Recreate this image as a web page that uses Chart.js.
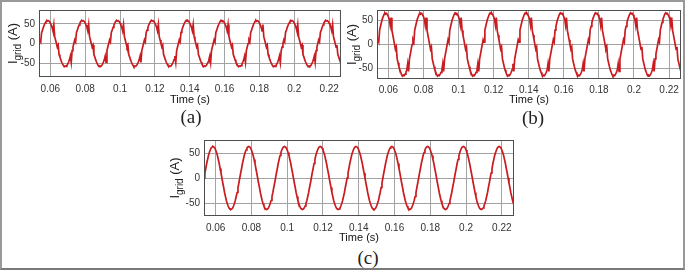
<!DOCTYPE html>
<html>
<head>
<meta charset="utf-8">
<script src="https://cdn.jsdelivr.net/npm/chart.js@4.4.1/dist/chart.umd.min.js"></script>
<style>
  html, body { margin: 0; padding: 0; background: #fff; }
  #page { position: relative; width: 685px; height: 270px; overflow: hidden; }
  .box { position: absolute; }
  .cap { position: absolute; font-family: "Liberation Serif", serif; font-size: 19px; line-height: 19px; color: #222; transform: translateX(-50%); white-space: nowrap; }
  #frame { position: absolute; left: 0; top: 0; width: 685px; height: 270px; box-sizing: border-box; border: 2px solid #999; border-bottom-color: #7a7a7a; pointer-events: none; }
</style>
</head>
<body>
<div id="page">
  <div class="box" style="left:0;top:0;width:345px;height:107px"><canvas id="ca"></canvas></div>
  <div class="box" style="left:340px;top:0;width:345px;height:107px"><canvas id="cb"></canvas></div>
  <div class="box" style="left:160px;top:130px;width:358px;height:115px"><canvas id="cc"></canvas></div>
  <div class="cap" style="left:191px;top:107px">(a)</div>
  <div class="cap" style="left:533px;top:108px">(b)</div>
  <div class="cap" style="left:368px;top:248px">(c)</div>
  <div id="frame"></div>
</div>
<script>
// sample times (s)
const time = [
  0.0535,0.054,0.0545,0.055,0.0555,0.056,0.0565,0.057,0.0575,0.058,0.0585,0.059,0.0595,0.06,0.0605,0.061,0.0615,0.062,0.0625,0.063,
  0.0635,0.064,0.0645,0.065,0.0655,0.066,0.0665,0.067,0.0675,0.068,0.0685,0.069,0.0695,0.07,0.0705,0.071,0.0715,0.072,0.0725,0.073,
  0.0735,0.074,0.0745,0.075,0.0755,0.076,0.0765,0.077,0.0775,0.078,0.0785,0.079,0.0795,0.08,0.0805,0.081,0.0815,0.082,0.0825,0.083,
  0.0835,0.084,0.0845,0.085,0.0855,0.086,0.0865,0.087,0.0875,0.088,0.0885,0.089,0.0895,0.09,0.0905,0.091,0.0915,0.092,0.0925,0.093,
  0.0935,0.094,0.0945,0.095,0.0955,0.096,0.0965,0.097,0.0975,0.098,0.0985,0.099,0.0995,0.1,0.1005,0.101,0.1015,0.102,0.1025,0.103,
  0.1035,0.104,0.1045,0.105,0.1055,0.106,0.1065,0.107,0.1075,0.108,0.1085,0.109,0.1095,0.11,0.1105,0.111,0.1115,0.112,0.1125,0.113,
  0.1135,0.114,0.1145,0.115,0.1155,0.116,0.1165,0.117,0.1175,0.118,0.1185,0.119,0.1195,0.12,0.1205,0.121,0.1215,0.122,0.1225,0.123,
  0.1235,0.124,0.1245,0.125,0.1255,0.126,0.1265,0.127,0.1275,0.128,0.1285,0.129,0.1295,0.13,0.1305,0.131,0.1315,0.132,0.1325,0.133,
  0.1335,0.134,0.1345,0.135,0.1355,0.136,0.1365,0.137,0.1375,0.138,0.1385,0.139,0.1395,0.14,0.1405,0.141,0.1415,0.142,0.1425,0.143,
  0.1435,0.144,0.1445,0.145,0.1455,0.146,0.1465,0.147,0.1475,0.148,0.1485,0.149,0.1495,0.15,0.1505,0.151,0.1515,0.152,0.1525,0.153,
  0.1535,0.154,0.1545,0.155,0.1555,0.156,0.1565,0.157,0.1575,0.158,0.1585,0.159,0.1595,0.16,0.1605,0.161,0.1615,0.162,0.1625,0.163,
  0.1635,0.164,0.1645,0.165,0.1655,0.166,0.1665,0.167,0.1675,0.168,0.1685,0.169,0.1695,0.17,0.1705,0.171,0.1715,0.172,0.1725,0.173,
  0.1735,0.174,0.1745,0.175,0.1755,0.176,0.1765,0.177,0.1775,0.178,0.1785,0.179,0.1795,0.18,0.1805,0.181,0.1815,0.182,0.1825,0.183,
  0.1835,0.184,0.1845,0.185,0.1855,0.186,0.1865,0.187,0.1875,0.188,0.1885,0.189,0.1895,0.19,0.1905,0.191,0.1915,0.192,0.1925,0.193,
  0.1935,0.194,0.1945,0.195,0.1955,0.196,0.1965,0.197,0.1975,0.198,0.1985,0.199,0.1995,0.2,0.2005,0.201,0.2015,0.202,0.2025,0.203,
  0.2035,0.204,0.2045,0.205,0.2055,0.206,0.2065,0.207,0.2075,0.208,0.2085,0.209,0.2095,0.21,0.2105,0.211,0.2115,0.212,0.2125,0.213,
  0.2135,0.214,0.2145,0.215,0.2155,0.216,0.2165,0.217,0.2175,0.218,0.2185,0.219,0.2195,0.22,0.2205,0.221,0.2215,0.222,0.2225,0.223,
  0.2235,0.224,0.2245,0.225,0.2255,0.226,0.2265,0.227,0.2275
];

// grid current (A), panel (a)
const igridA = [
  10,9,4,28,34,41,47,52,56,59,57,58,56,52,47,41,32,48,18,9,
  0,-9,-4,-28,-34,-41,-47,-52,-56,-59,-57,-58,-56,-52,-47,-41,-32,-48,-18,-9,
  0,9,4,28,34,41,47,52,56,59,57,58,56,52,47,41,32,48,18,9,
  0,-9,-4,-28,-34,-41,-47,-52,-56,-59,-57,-58,-56,-52,-47,-41,-32,-48,-18,-9,
  0,9,4,28,34,41,47,52,56,59,57,58,56,52,47,41,32,48,18,9,
  0,-9,-4,-28,-34,-41,-47,-52,-56,-59,-57,-58,-56,-52,-47,-41,-32,-48,-18,-9,
  0,9,4,28,34,41,47,52,56,59,57,58,56,52,47,41,32,48,18,9,
  0,-9,-4,-28,-34,-41,-47,-52,-56,-59,-57,-58,-56,-52,-47,-41,-32,-48,-18,-9,
  0,9,4,28,34,41,47,52,56,59,57,58,56,52,47,41,32,48,18,9,
  0,-9,-4,-28,-34,-41,-47,-52,-56,-59,-57,-58,-56,-52,-47,-41,-32,-48,-18,-9,
  0,9,4,28,34,41,47,52,56,59,57,58,56,52,47,41,32,48,18,9,
  0,-9,-4,-28,-34,-41,-47,-52,-56,-59,-57,-58,-56,-52,-47,-41,-32,-48,-18,-9,
  0,9,4,28,34,41,47,52,56,59,57,58,56,52,47,41,32,48,18,9,
  0,-9,-4,-28,-34,-41,-47,-52,-56,-59,-57,-58,-56,-52,-47,-41,-32,-48,-18,-9,
  0,9,4,28,34,41,47,52,56,59,57,58,56,52,47,41,32,48,18,9,
  0,-9,-4,-28,-34,-41,-47,-52,-56,-59,-57,-58,-56,-52,-47,-41,-32,-48,-18,-9,
  0,9,4,28,34,41,47,52,56,59,57,58,56,52,47,41,32,48,18,9,
  0,-9,-4,-28,-34,-41,-47,-52,-56
];

// grid current (A), panel (b)
const igridB = [
  14,10,5,30,38,46,53,58,63,66,64,65,62,58,53,40,56,30,20,10,
  0,-10,-5,-30,-38,-46,-53,-58,-63,-66,-64,-65,-62,-58,-53,-40,-56,-30,-20,-10,
  0,10,5,30,38,46,53,58,63,66,64,65,62,58,53,40,56,30,20,10,
  0,-10,-5,-30,-38,-46,-53,-58,-63,-66,-64,-65,-62,-58,-53,-40,-56,-30,-20,-10,
  0,10,5,30,38,46,53,58,63,66,64,65,62,58,53,40,56,30,20,10,
  0,-10,-5,-30,-38,-46,-53,-58,-63,-66,-64,-65,-62,-58,-53,-40,-56,-30,-20,-10,
  0,10,5,30,38,46,53,58,63,66,64,65,62,58,53,40,56,30,20,10,
  0,-10,-5,-30,-38,-46,-53,-58,-63,-66,-64,-65,-62,-58,-53,-40,-56,-30,-20,-10,
  0,10,5,30,38,46,53,58,63,66,64,65,62,58,53,40,56,30,20,10,
  0,-10,-5,-30,-38,-46,-53,-58,-63,-66,-64,-65,-62,-58,-53,-40,-56,-30,-20,-10,
  0,10,5,30,38,46,53,58,63,66,64,65,62,58,53,40,56,30,20,10,
  0,-10,-5,-30,-38,-46,-53,-58,-63,-66,-64,-65,-62,-58,-53,-40,-56,-30,-20,-10,
  0,10,5,30,38,46,53,58,63,66,64,65,62,58,53,40,56,30,20,10,
  0,-10,-5,-30,-38,-46,-53,-58,-63,-66,-64,-65,-62,-58,-53,-40,-56,-30,-20,-10,
  0,10,5,30,38,46,53,58,63,66,64,65,62,58,53,40,56,30,20,10,
  0,-10,-5,-30,-38,-46,-53,-58,-63,-66,-64,-65,-62,-58,-53,-40,-56,-30,-20,-10,
  0,10,5,30,38,46,53,58,63,66,64,65,62,58,53,40,56,30,20,10,
  0,-10,-5,-30,-38,-46,-53,-58,-63
];

// grid current (A), panel (c)
const igridC = [
  0,10,19,29,37,45,51,56,60,62,63,62,60,56,51,45,37,29,19,10,
  0,-10,-19,-29,-37,-45,-51,-56,-60,-62,-63,-62,-60,-56,-51,-45,-37,-29,-19,-10,
  0,10,19,29,37,45,51,56,60,62,63,62,60,56,51,45,37,29,19,10,
  0,-10,-19,-29,-37,-45,-51,-56,-60,-62,-63,-62,-60,-56,-51,-45,-37,-29,-19,-10,
  0,10,19,29,37,45,51,56,60,62,63,62,60,56,51,45,37,29,19,10,
  0,-10,-19,-29,-37,-45,-51,-56,-60,-62,-63,-62,-60,-56,-51,-45,-37,-29,-19,-10,
  0,10,19,29,37,45,51,56,60,62,63,62,60,56,51,45,37,29,19,10,
  0,-10,-19,-29,-37,-45,-51,-56,-60,-62,-63,-62,-60,-56,-51,-45,-37,-29,-19,-10,
  0,10,19,29,37,45,51,56,60,62,63,62,60,56,51,45,37,29,19,10,
  0,-10,-19,-29,-37,-45,-51,-56,-60,-62,-63,-62,-60,-56,-51,-45,-37,-29,-19,-10,
  0,10,19,29,37,45,51,56,60,62,63,62,60,56,51,45,37,29,19,10,
  0,-10,-19,-29,-37,-45,-51,-56,-60,-62,-63,-62,-60,-56,-51,-45,-37,-29,-19,-10,
  0,10,19,29,37,45,51,56,60,62,63,62,60,56,51,45,37,29,19,10,
  0,-10,-19,-29,-37,-45,-51,-56,-60,-62,-63,-62,-60,-56,-51,-45,-37,-29,-19,-10,
  0,10,19,29,37,45,51,56,60,62,63,62,60,56,51,45,37,29,19,10,
  0,-10,-19,-29,-37,-45,-51,-56,-60,-62,-63,-62,-60,-56,-51,-45,-37,-29,-19,-10,
  0,10,19,29,37,45,51,56,60,62,63,62,60,56,51,45,37,29,19,10,
  0,-10,-19,-29,-37,-45,-51,-56,-60
];

const xTicks = [0.06, 0.08, 0.1, 0.12, 0.14, 0.16, 0.18, 0.2, 0.22];
const xTickLabels = ['0.06', '0.08', '0.1', '0.12', '0.14', '0.16', '0.18', '0.2', '0.22'];
const yTicks = [-50, 0, 50];
const yTickLabels = ['-50', '0', '50'];

const lineRed = '#c81c20';
const gridGrey = '#a3a3a3';
const tickFont = { family: 'Liberation Sans', size: 10 };

// box round the plot area + the I_grid (A) label with subscript
const boxAndLabel = {
  id: 'boxAndLabel',
  afterDraw(chart, args, opts) {
    const { ctx, chartArea: a } = chart;
    ctx.save();
    ctx.strokeStyle = '#4d4d4d';
    ctx.lineWidth = 1;
    ctx.strokeRect(a.left + 0.5, a.top + 0.5, a.right - a.left - 1, a.bottom - a.top - 1);

    ctx.translate(opts.labelX, (a.top + a.bottom) / 2);
    ctx.rotate(-Math.PI / 2);
    ctx.fillStyle = '#222';
    const big = '13px "Liberation Sans"', small = '10px "Liberation Sans"';
    ctx.font = big;
    const w1 = ctx.measureText('I').width, w3 = ctx.measureText(' (A)').width;
    ctx.font = small;
    const w2 = ctx.measureText('grid').width;
    let x = -(w1 + w2 + w3) / 2;
    ctx.font = big; ctx.fillText('I', x, 4); x += w1;
    ctx.font = small; ctx.fillText('grid', x, 8); x += w2;
    ctx.font = big; ctx.fillText(' (A)', x, 4);
    ctx.restore();
  }
};

function drawPanel(id, values, yMin, yMax, p) {
  new Chart(document.getElementById(id), {
    type: 'line',
    data: {
      datasets: [{
        data: time.map((t, i) => ({ x: t, y: values[i] })),
        borderColor: lineRed,
        borderWidth: 1.7,
        pointRadius: 0,
        tension: 0,
        fill: false
      }]
    },
    options: {
      responsive: true,
      maintainAspectRatio: false,
      animation: false,
      layout: { padding: { left: 0, top: p.top, right: p.right, bottom: 0 } },
      plugins: {
        legend: { display: false },
        tooltip: { enabled: false },
        boxAndLabel: { labelX: p.labelX }
      },
      scales: {
        x: {
          type: 'linear',
          min: 0.0535,
          max: 0.2268,
          afterBuildTicks: s => { s.ticks = xTicks.map(v => ({ value: v })); },
          afterFit: s => { s.height = p.xH; },
          grid: { color: gridGrey, drawTicks: false },
          border: { display: false },
          ticks: {
            padding: p.xPad, color: '#333', font: tickFont, maxRotation: 0, autoSkip: false,
            callback: (v, i) => xTickLabels[i]
          },
          title: {
            display: true, text: 'Time (s)', color: '#111',
            font: { family: 'Liberation Sans', size: 11 }, padding: 0
          }
        },
        y: {
          min: yMin,
          max: yMax,
          afterBuildTicks: s => { s.ticks = yTicks.map(v => ({ value: v })); },
          afterFit: s => { s.width = p.yW; },
          grid: { color: gridGrey, drawTicks: false },
          border: { display: false },
          ticks: {
            padding: 4, color: '#333', font: tickFont,
            callback: (v, i) => yTickLabels[i]
          }
        }
      }
    },
    plugins: [boxAndLabel]
  });
}

drawPanel('ca', igridA, -85, 85, { top: 4, right: 4, yW: 39, xH: 30, xPad: 6, labelX: 13 });
drawPanel('cb', igridB, -72, 72, { top: 3, right: 4, yW: 37, xH: 28, xPad: 5, labelX: 12 });
drawPanel('cc', igridC, -76, 76, { top: 10, right: 4, yW: 44, xH: 29, xPad: 6, labelX: 15 });
</script>
</body>
</html>
